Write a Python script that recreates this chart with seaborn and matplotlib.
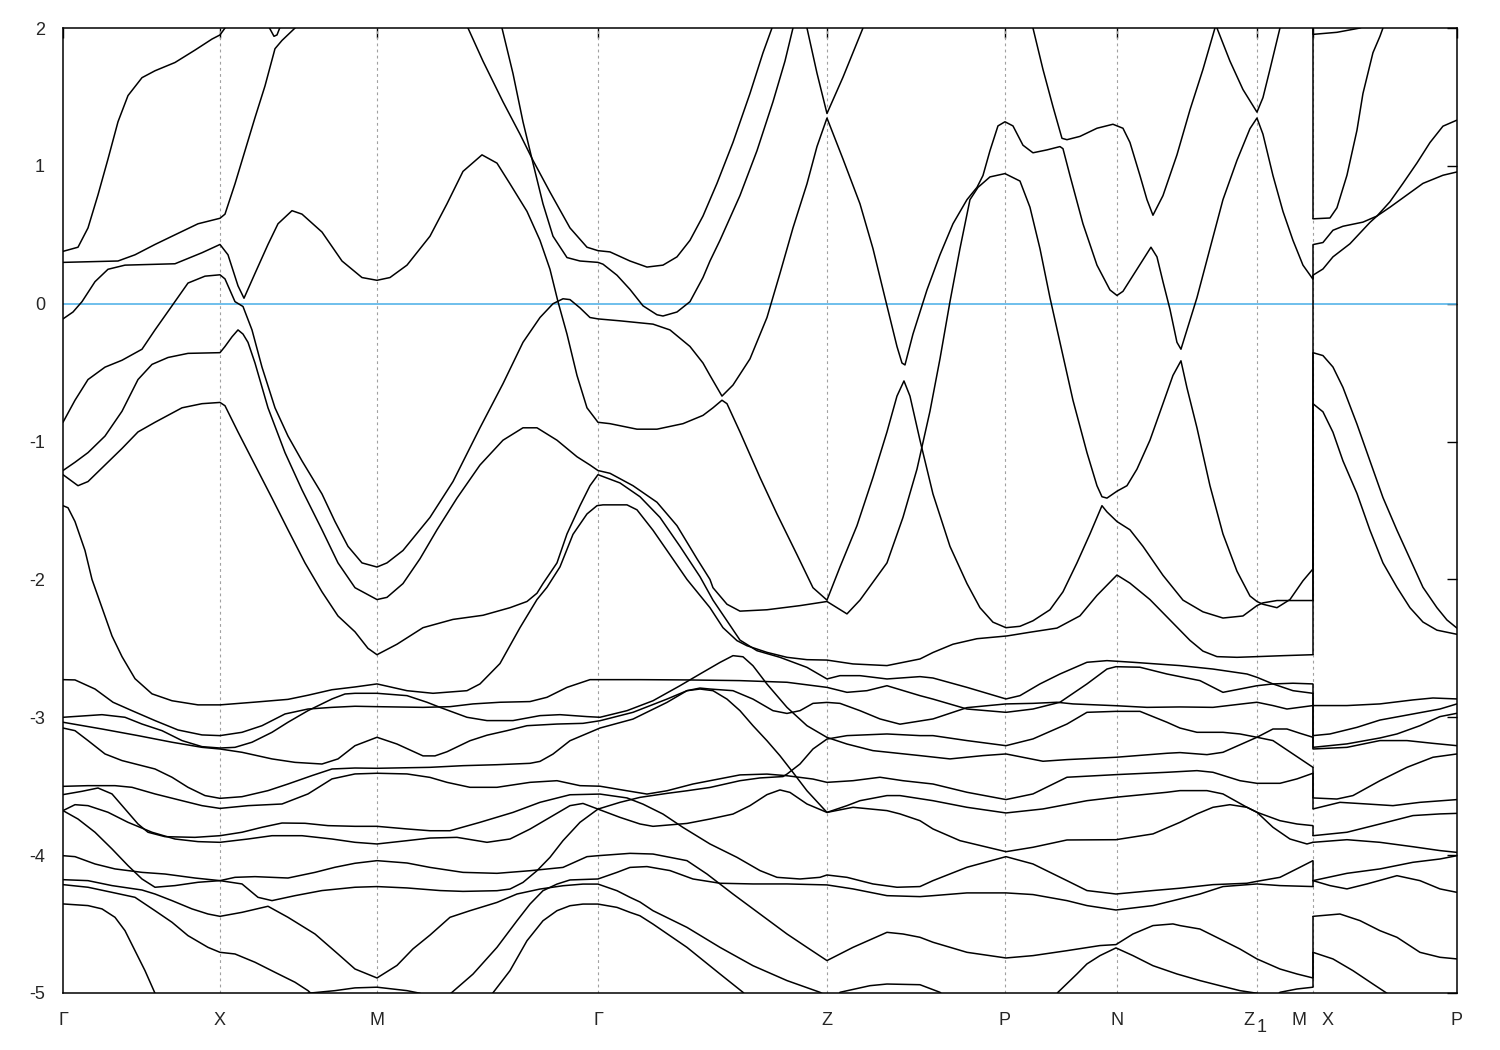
import matplotlib
matplotlib.use("Agg")
import pandas as pd
import matplotlib.pyplot as plt
import seaborn as sns

sns.set_style("white")
plt.rcParams["font.family"] = ["Liberation Sans", "DejaVu Sans"]
plt.rcParams["axes.unicode_minus"] = False

# high-symmetry points along the k-path (path length units)
k_ticks = [0.00, 1.57, 3.14, 5.35, 7.64, 9.42, 10.54, 11.94, 12.50, 13.94]
k_labels = ["Γ", "X", "M", "Γ", "Z", "P", "N", "", "", "P"]
k_break = 12.50
# labels drawn beside a tick (Z1 and the M|X break)
side_pos = [11.86, 12.36, 12.65]
side_labels = ["Z", "M", "X"]
sub_pos = 11.99

# ---- bands above about -2.5 eV: (k, E) ----
band_a1 = [(0.00, 0.38), (0.15, 0.41), (0.25, 0.55), (0.35, 0.79), (0.45, 1.05), (0.55, 1.32),
           (0.65, 1.51), (0.79, 1.64), (0.92, 1.69), (1.12, 1.75), (1.32, 1.84), (1.49, 1.92),
           (1.57, 1.95), (1.64, 2.02), (1.70, 2.10)]
band_a2 = [(2.02, 2.06), (2.11, 1.94), (2.14, 1.95), (2.20, 2.06)]
band_b = [(0.00, 0.30), (0.55, 0.31), (0.72, 0.355), (0.92, 0.43), (1.12, 0.50), (1.35, 0.58),
          (1.57, 0.62), (1.62, 0.65), (1.72, 0.87), (1.82, 1.11), (1.92, 1.35), (2.02, 1.58),
          (2.12, 1.85), (2.19, 1.91), (2.32, 2.00), (2.40, 2.06)]
band_c = [(0.00, -0.11), (0.10, -0.06), (0.19, 0.015), (0.32, 0.16), (0.45, 0.25), (0.62, 0.28),
          (1.12, 0.29), (1.39, 0.37), (1.57, 0.43), (1.65, 0.355), (1.75, 0.13), (1.81, 0.04),
          (1.92, 0.22), (2.05, 0.43), (2.15, 0.58), (2.29, 0.675), (2.39, 0.65), (2.59, 0.52),
          (2.79, 0.31), (2.99, 0.19), (3.14, 0.17), (3.27, 0.19), (3.44, 0.28), (3.67, 0.49),
          (3.84, 0.725), (4.00, 0.96), (4.19, 1.08), (4.34, 1.02), (4.47, 0.87), (4.64, 0.67),
          (4.77, 0.46), (4.87, 0.25), (4.95, 0.015), (5.04, -0.22), (5.14, -0.52), (5.24, -0.755),
          (5.35, -0.86), (5.47, -0.87), (5.74, -0.91), (5.94, -0.91), (6.20, -0.87), (6.40, -0.81),
          (6.50, -0.755), (6.59, -0.70), (6.64, -0.725), (6.77, -0.93), (6.97, -1.26), (7.14, -1.525),
          (7.34, -1.82), (7.50, -2.06), (7.64, -2.15), (7.77, -1.91), (7.94, -1.61), (8.10, -1.26),
          (8.24, -0.93), (8.34, -0.67), (8.41, -0.56), (8.47, -0.67), (8.57, -0.99), (8.70, -1.38),
          (8.87, -1.76), (9.04, -2.03), (9.17, -2.205), (9.30, -2.31), (9.43, -2.35), (9.57, -2.34),
          (9.70, -2.30), (9.87, -2.22), (10.00, -2.09), (10.14, -1.88), (10.27, -1.67),
          (10.39, -1.465), (10.44, -1.51), (10.54, -1.58), (10.67, -1.64), (10.80, -1.76),
          (11.00, -1.97), (11.20, -2.15), (11.40, -2.235), (11.60, -2.28), (11.80, -2.265),
          (11.94, -2.19), (12.00, -2.17), (12.14, -2.153), (12.50, -2.153)]
band_d = [(0.00, -0.86), (0.12, -0.70), (0.25, -0.55), (0.42, -0.46), (0.59, -0.41), (0.79, -0.33),
          (0.92, -0.19), (1.09, -0.015), (1.25, 0.15), (1.42, 0.20), (1.57, 0.21), (1.62, 0.18),
          (1.72, 0.015), (1.80, -0.02), (1.89, -0.19), (1.99, -0.46), (2.12, -0.755), (2.25, -0.96),
          (2.39, -1.14), (2.59, -1.38), (2.72, -1.58), (2.85, -1.76), (2.99, -1.88), (3.14, -1.91),
          (3.24, -1.88), (3.40, -1.79), (3.67, -1.55), (3.90, -1.29), (4.17, -0.90), (4.40, -0.58),
          (4.60, -0.28), (4.77, -0.10), (4.90, 0.00), (5.00, 0.036), (5.07, 0.03), (5.17, -0.03),
          (5.27, -0.10), (5.35, -0.11), (5.57, -0.124), (5.90, -0.148), (6.07, -0.19), (6.27, -0.31),
          (6.40, -0.43), (6.47, -0.52), (6.59, -0.67), (6.70, -0.59), (6.87, -0.40), (7.04, -0.10),
          (7.17, 0.22), (7.30, 0.55), (7.44, 0.87), (7.54, 1.14), (7.64, 1.347), (7.80, 1.05),
          (7.97, 0.725), (8.10, 0.40), (8.22, 0.044), (8.34, -0.31), (8.39, -0.43), (8.42, -0.444),
          (8.50, -0.22), (8.64, 0.10), (8.77, 0.355), (8.90, 0.58), (9.04, 0.755), (9.14, 0.844),
          (9.20, 0.93), (9.27, 1.11), (9.35, 1.29), (9.42, 1.32), (9.50, 1.29), (9.60, 1.15),
          (9.70, 1.095), (9.84, 1.116), (9.97, 1.14), (10.00, 1.125), (10.07, 0.93), (10.20, 0.58),
          (10.34, 0.28), (10.47, 0.10), (10.54, 0.06), (10.60, 0.09), (10.74, 0.25), (10.88, 0.41),
          (10.94, 0.34), (11.00, 0.16), (11.07, -0.04), (11.14, -0.28), (11.18, -0.33),
          (11.24, -0.19), (11.34, 0.044), (11.47, 0.40), (11.60, 0.755), (11.74, 1.04),
          (11.87, 1.27), (11.94, 1.347), (12.00, 1.23), (12.10, 0.93), (12.20, 0.67), (12.30, 0.46),
          (12.40, 0.28), (12.50, 0.178)]
band_e = [(0.00, -1.21), (0.12, -1.15), (0.25, -1.08), (0.42, -0.96), (0.59, -0.78), (0.75, -0.55),
          (0.89, -0.44), (1.05, -0.39), (1.25, -0.36), (1.57, -0.355), (1.62, -0.31), (1.69, -0.24),
          (1.75, -0.19), (1.80, -0.22), (1.85, -0.28), (1.92, -0.43), (2.05, -0.755), (2.22, -1.08),
          (2.39, -1.35), (2.59, -1.64), (2.75, -1.88), (2.92, -2.06), (3.14, -2.146), (3.24, -2.13),
          (3.40, -2.03), (3.57, -1.85), (3.74, -1.64), (3.94, -1.41), (4.17, -1.17), (4.40, -0.99),
          (4.60, -0.90), (4.74, -0.90), (4.94, -0.99), (5.14, -1.11), (5.27, -1.17), (5.35, -1.21),
          (5.47, -1.23), (5.70, -1.32), (5.94, -1.44), (6.14, -1.61), (6.34, -1.85), (6.47, -2.00),
          (6.50, -2.06), (6.64, -2.18), (6.77, -2.23), (7.04, -2.22), (7.37, -2.19), (7.64, -2.16),
          (7.84, -2.25), (7.97, -2.15), (8.24, -1.88), (8.40, -1.55), (8.54, -1.20), (8.67, -0.78),
          (8.77, -0.40), (8.87, 0.015), (8.97, 0.40), (9.07, 0.755), (9.15, 0.844), (9.27, 0.92),
          (9.42, 0.944), (9.57, 0.89), (9.67, 0.70), (9.77, 0.40), (9.87, 0.044), (9.97, -0.28),
          (10.10, -0.70), (10.24, -1.08), (10.34, -1.32), (10.39, -1.40), (10.44, -1.41),
          (10.54, -1.36), (10.64, -1.32), (10.74, -1.20), (10.87, -0.99), (11.00, -0.725),
          (11.10, -0.52), (11.18, -0.414), (11.24, -0.61), (11.34, -0.90), (11.47, -1.32),
          (11.60, -1.67), (11.74, -1.94), (11.87, -2.12), (11.94, -2.16), (12.00, -2.18),
          (12.14, -2.205), (12.27, -2.146), (12.40, -2.01), (12.50, -1.924)]
band_f = [(0.00, -1.24), (0.15, -1.32), (0.25, -1.29), (0.42, -1.17), (0.59, -1.05), (0.75, -0.93),
          (0.92, -0.86), (1.19, -0.755), (1.39, -0.725), (1.57, -0.716), (1.62, -0.74), (1.75, -0.93),
          (1.92, -1.17), (2.09, -1.41), (2.25, -1.64), (2.42, -1.88), (2.59, -2.09), (2.75, -2.265),
          (2.92, -2.38), (3.05, -2.50), (3.14, -2.546), (3.34, -2.47), (3.60, -2.35), (3.90, -2.29),
          (4.20, -2.26), (4.47, -2.205), (4.64, -2.16), (4.74, -2.10), (4.80, -2.03), (4.94, -1.88),
          (5.04, -1.67), (5.17, -1.465), (5.27, -1.32), (5.35, -1.24), (5.57, -1.30), (5.77, -1.40),
          (5.97, -1.55), (6.17, -1.76), (6.37, -1.98), (6.50, -2.15), (6.64, -2.30), (6.77, -2.44),
          (6.94, -2.517), (7.17, -2.565), (7.44, -2.638), (7.64, -2.722), (7.77, -2.698),
          (7.97, -2.698), (8.24, -2.722), (8.57, -2.705), (8.70, -2.715), (9.04, -2.783),
          (9.43, -2.867), (9.57, -2.843), (9.77, -2.758), (9.97, -2.686), (10.24, -2.601),
          (10.44, -2.589), (10.70, -2.601), (11.17, -2.625), (11.50, -2.65), (11.84, -2.686),
          (11.94, -2.71), (12.10, -2.758), (12.30, -2.807), (12.50, -2.826)]
band_g = [(0.00, -1.465), (0.05, -1.48), (0.12, -1.58), (0.22, -1.79), (0.29, -2.00), (0.39, -2.205),
          (0.49, -2.41), (0.59, -2.56), (0.72, -2.72), (0.89, -2.83), (1.09, -2.88), (1.35, -2.91),
          (1.57, -2.91), (1.92, -2.89), (2.25, -2.87), (2.45, -2.84), (2.69, -2.80), (2.92, -2.78),
          (3.14, -2.758), (3.44, -2.807), (3.70, -2.826), (4.04, -2.807), (4.17, -2.758),
          (4.37, -2.61), (4.47, -2.48), (4.57, -2.35), (4.74, -2.146), (4.84, -2.057), (4.97, -1.909),
          (5.10, -1.673), (5.24, -1.525), (5.34, -1.465), (5.40, -1.459), (5.64, -1.459),
          (5.74, -1.495), (5.90, -1.643), (6.07, -1.821), (6.24, -2.00), (6.47, -2.205), (6.60, -2.35),
          (6.74, -2.444), (6.84, -2.481), (7.04, -2.529), (7.24, -2.565), (7.44, -2.582),
          (7.64, -2.585), (7.90, -2.613), (8.24, -2.625), (8.57, -2.577), (8.70, -2.53),
          (8.90, -2.47), (9.14, -2.43), (9.44, -2.41), (9.67, -2.383), (9.94, -2.353),
          (10.17, -2.264), (10.34, -2.116), (10.54, -1.968), (10.67, -2.027), (10.87, -2.146),
          (11.07, -2.294), (11.27, -2.442), (11.40, -2.52), (11.54, -2.56), (11.74, -2.565),
          (11.94, -2.56), (12.20, -2.553), (12.50, -2.546)]
band_u1 = [(4.00, 2.08), (4.05, 2.00), (4.20, 1.76), (4.40, 1.465), (4.57, 1.23), (4.70, 1.04),
           (4.87, 0.81), (5.07, 0.55), (5.24, 0.41), (5.35, 0.385), (5.47, 0.376), (5.67, 0.31),
           (5.84, 0.266), (6.00, 0.28), (6.14, 0.34), (6.27, 0.46), (6.40, 0.636), (6.54, 0.873),
           (6.70, 1.17), (6.87, 1.525), (7.00, 1.82), (7.09, 2.00), (7.13, 2.08)]
band_u2 = [(4.36, 2.08), (4.39, 2.00), (4.50, 1.67), (4.60, 1.32), (4.70, 1.02), (4.80, 0.725),
           (4.90, 0.49), (5.04, 0.335), (5.17, 0.31), (5.35, 0.30), (5.40, 0.287), (5.54, 0.207),
           (5.67, 0.104), (5.80, -0.015), (5.94, -0.08), (6.00, -0.089), (6.14, -0.06), (6.27, 0.015),
           (6.40, 0.19), (6.47, 0.31), (6.57, 0.46), (6.77, 0.785), (6.94, 1.11), (7.10, 1.465),
           (7.22, 1.76), (7.30, 2.00), (7.33, 2.08)]
band_ztop = [(7.41, 2.08), (7.44, 2.00), (7.54, 1.673), (7.64, 1.38), (7.80, 1.643), (8.00, 2.00),
             (8.04, 2.08)]
band_t1 = [(9.68, 2.08), (9.70, 2.00), (9.80, 1.70), (9.90, 1.43), (9.99, 1.20), (10.04, 1.19),
           (10.17, 1.214), (10.34, 1.273), (10.50, 1.302), (10.60, 1.273), (10.67, 1.17),
           (10.77, 0.93), (10.84, 0.755), (10.90, 0.642), (11.00, 0.784), (11.14, 1.08),
           (11.27, 1.406), (11.40, 1.70), (11.52, 2.00), (11.55, 2.08)]
band_t2 = [(11.51, 2.08), (11.54, 2.00), (11.67, 1.76), (11.80, 1.554), (11.94, 1.39), (12.00, 1.495),
           (12.07, 1.70), (12.17, 2.00), (12.20, 2.08)]

# ---- X -> P section (after the path break) ----
band_xp1 = [(12.50, 1.954), (12.74, 1.969), (12.97, 2.00), (13.05, 2.03)]
band_xp2 = [(12.50, 0.616), (12.67, 0.622), (12.74, 0.696), (12.84, 0.932), (12.94, 1.258),
            (13.00, 1.525), (13.10, 1.821), (13.17, 1.94), (13.20, 2.00), (13.23, 2.06)]
band_xp3 = [(12.50, 0.429), (12.60, 0.444), (12.70, 0.533), (12.80, 0.562), (13.00, 0.592),
            (13.14, 0.636), (13.27, 0.74), (13.40, 0.873), (13.54, 1.021), (13.67, 1.169),
            (13.80, 1.288), (13.94, 1.332)]
band_xp4 = [(12.50, 0.207), (12.60, 0.252), (12.70, 0.34), (12.87, 0.435), (13.07, 0.59),
            (13.14, 0.636), (13.27, 0.70), (13.60, 0.873), (13.80, 0.932), (13.94, 0.956)]
band_xp5 = [(12.50, -0.355), (12.60, -0.376), (12.70, -0.459), (12.80, -0.607), (12.94, -0.873),
            (13.07, -1.14), (13.20, -1.406), (13.34, -1.643), (13.47, -1.85), (13.60, -2.057),
            (13.74, -2.205), (13.84, -2.294), (13.94, -2.353)]
band_xp6 = [(12.50, -0.725), (12.60, -0.784), (12.70, -0.932), (12.80, -1.14), (12.94, -1.376),
            (13.07, -1.643), (13.20, -1.88), (13.34, -2.057), (13.47, -2.205), (13.60, -2.309),
            (13.74, -2.368), (13.94, -2.398)]

# ---- lower manifold (-2.5 .. -5 eV) ----
band_la = [(0.00, -2.727), (0.12, -2.729), (0.32, -2.795), (0.50, -2.891), (0.69, -2.952),
           (0.92, -3.024), (1.15, -3.092), (1.39, -3.128), (1.57, -3.133), (1.79, -3.109),
           (1.99, -3.061), (2.22, -2.976), (2.45, -2.94), (2.69, -2.928), (2.92, -2.92),
           (3.14, -2.923), (3.60, -2.928), (3.87, -2.923), (4.10, -2.903), (4.37, -2.891),
           (4.67, -2.886), (4.84, -2.855), (5.04, -2.783), (5.27, -2.727), (5.35, -2.727),
           (5.77, -2.727), (6.24, -2.729), (6.77, -2.734), (7.24, -2.746), (7.64, -2.783),
           (7.84, -2.819), (8.04, -2.807), (8.24, -2.771), (8.57, -2.843), (8.70, -2.868),
           (9.04, -2.94), (9.43, -2.964), (9.70, -2.94), (9.97, -2.891), (10.24, -2.758),
           (10.44, -2.65), (10.53, -2.633), (10.77, -2.637), (11.04, -2.686), (11.17, -2.705),
           (11.37, -2.734), (11.60, -2.819), (11.77, -2.795), (11.94, -2.771), (12.10, -2.758),
           (12.30, -2.753), (12.50, -2.758)]
band_lb = [(0.00, -3.0), (0.39, -2.981), (0.62, -3.0), (0.79, -3.049), (0.99, -3.097), (1.19, -3.169),
           (1.39, -3.213), (1.57, -3.223), (1.72, -3.218), (1.89, -3.181), (2.09, -3.109),
           (2.25, -3.036), (2.45, -2.952), (2.69, -2.867), (2.82, -2.831), (2.92, -2.826),
           (3.14, -2.826), (3.44, -2.843), (3.64, -2.891), (3.77, -2.928), (4.04, -3.0),
           (4.24, -3.024), (4.50, -3.024), (4.77, -2.988), (4.97, -2.981), (5.24, -2.995),
           (5.37, -3.0), (5.64, -2.952), (5.90, -2.88), (6.17, -2.771), (6.37, -2.686),
           (6.57, -2.602), (6.70, -2.553), (6.80, -2.561), (6.90, -2.626), (7.04, -2.759),
           (7.24, -2.928), (7.44, -3.061), (7.64, -3.146), (7.84, -3.194), (8.10, -3.242),
           (8.57, -3.278), (8.87, -3.302), (9.20, -3.278), (9.43, -3.266), (9.80, -3.319),
           (10.04, -3.307), (10.53, -3.29), (11.04, -3.261), (11.17, -3.256), (11.44, -3.271),
           (11.60, -3.254), (11.94, -3.145), (12.10, -3.085), (12.24, -3.085), (12.37, -3.116),
           (12.50, -3.145)]
band_lc = [(0.00, -3.036), (0.39, -3.085), (0.75, -3.133), (1.09, -3.181), (1.39, -3.218),
           (1.57, -3.23), (1.79, -3.254), (2.09, -3.302), (2.32, -3.327), (2.59, -3.339),
           (2.75, -3.302), (2.92, -3.206), (3.14, -3.145), (3.34, -3.194), (3.60, -3.28),
           (3.72, -3.28), (3.84, -3.25), (4.07, -3.17), (4.24, -3.13), (4.44, -3.097),
           (4.64, -3.061), (4.94, -3.049), (5.20, -3.044), (5.37, -3.025), (5.70, -2.964),
           (6.04, -2.868), (6.24, -2.807), (6.37, -2.788), (6.47, -2.795), (6.70, -2.807),
           (6.90, -2.868), (7.10, -2.952), (7.24, -2.972), (7.37, -2.952), (7.50, -2.899),
           (7.64, -2.892), (7.77, -2.899), (7.97, -2.952), (8.17, -3.012), (8.37, -3.05),
           (8.70, -3.012), (9.04, -2.93), (9.43, -2.903), (9.70, -2.899), (9.94, -2.891),
           (10.10, -2.903), (10.53, -2.916), (10.84, -2.928), (11.17, -2.925), (11.50, -2.928),
           (11.84, -2.899), (11.94, -2.891), (12.10, -2.915), (12.24, -2.94), (12.50, -2.915)]
band_ld = [(0.00, -3.078), (0.12, -3.097), (0.25, -3.169), (0.42, -3.266), (0.59, -3.314),
           (0.79, -3.351), (0.92, -3.375), (1.09, -3.435), (1.25, -3.508), (1.42, -3.568),
           (1.57, -3.588), (1.79, -3.576), (2.05, -3.532), (2.25, -3.484), (2.49, -3.423),
           (2.69, -3.375), (2.92, -3.368), (3.14, -3.37), (3.67, -3.363), (4.00, -3.351),
           (4.34, -3.344), (4.67, -3.334), (4.77, -3.32), (4.90, -3.267), (5.07, -3.17),
           (5.37, -3.078), (5.70, -3.013), (6.04, -2.892), (6.24, -2.807), (6.37, -2.795),
           (6.50, -2.807), (6.64, -2.868), (6.77, -2.952), (6.90, -3.061), (7.04, -3.17),
           (7.17, -3.279), (7.30, -3.40), (7.44, -3.533), (7.64, -3.69), (7.84, -3.641),
           (7.97, -3.605), (8.24, -3.568), (8.37, -3.568), (8.70, -3.605), (9.04, -3.653),
           (9.43, -3.694), (9.80, -3.665), (10.24, -3.605), (10.53, -3.58), (11.04, -3.544),
           (11.17, -3.532), (11.44, -3.532), (11.60, -3.556), (11.84, -3.653), (11.94, -3.689),
           (12.17, -3.75), (12.34, -3.774), (12.50, -3.786)]
band_le = [(0.00, -3.501), (0.25, -3.496), (0.52, -3.496), (0.69, -3.508), (0.92, -3.556),
           (1.19, -3.605), (1.39, -3.641), (1.57, -3.661), (1.85, -3.641), (2.19, -3.629),
           (2.45, -3.556), (2.69, -3.447), (2.92, -3.411), (3.14, -3.406), (3.44, -3.411),
           (3.67, -3.436), (3.84, -3.472), (4.07, -3.508), (4.34, -3.508), (4.67, -3.472),
           (4.94, -3.46), (5.17, -3.496), (5.37, -3.50), (5.64, -3.533), (5.84, -3.557),
           (6.04, -3.533), (6.30, -3.484), (6.77, -3.418), (7.04, -3.412), (7.24, -3.424),
           (7.50, -3.448), (7.64, -3.472), (7.90, -3.46), (8.17, -3.435), (8.40, -3.46),
           (8.70, -3.484), (9.04, -3.544), (9.43, -3.597), (9.70, -3.556), (10.04, -3.435),
           (10.53, -3.416), (11.04, -3.399), (11.34, -3.387), (11.50, -3.399), (11.77, -3.46),
           (11.94, -3.479), (12.17, -3.479), (12.34, -3.447), (12.50, -3.406)]
band_lf = [(0.00, -3.561), (0.19, -3.537), (0.35, -3.513), (0.49, -3.556), (0.62, -3.665),
           (0.75, -3.774), (0.85, -3.834), (1.02, -3.866), (1.32, -3.871), (1.57, -3.859),
           (1.79, -3.834), (1.99, -3.798), (2.19, -3.767), (2.42, -3.769), (2.65, -3.786),
           (2.92, -3.791), (3.14, -3.791), (3.44, -3.81), (3.67, -3.823), (3.87, -3.823),
           (4.17, -3.762), (4.50, -3.69), (4.77, -3.617), (5.07, -3.562), (5.37, -3.557),
           (5.64, -3.585), (5.80, -3.63), (6.00, -3.702), (6.20, -3.799), (6.47, -3.919),
           (6.74, -4.016), (6.97, -4.112), (7.14, -4.161), (7.37, -4.173), (7.57, -4.161),
           (7.64, -4.144), (7.84, -4.161), (8.10, -4.209), (8.34, -4.233), (8.57, -4.228),
           (8.70, -4.185), (9.04, -4.088), (9.43, -4.011), (9.70, -4.064), (10.04, -4.185),
           (10.24, -4.257), (10.53, -4.282), (10.90, -4.257), (11.17, -4.24), (11.50, -4.214),
           (11.84, -4.204), (11.94, -4.19), (12.17, -4.161), (12.37, -4.088), (12.50, -4.04)]
band_lg = [(0.00, -3.677), (0.12, -3.634), (0.25, -3.641), (0.45, -3.689), (0.65, -3.762),
           (0.89, -3.834), (1.12, -3.883), (1.35, -3.902), (1.57, -3.907), (1.85, -3.883),
           (2.09, -3.859), (2.39, -3.859), (2.69, -3.883), (2.92, -3.907), (3.14, -3.919),
           (3.44, -3.895), (3.67, -3.876), (3.94, -3.871), (4.24, -3.907), (4.47, -3.883),
           (4.67, -3.811), (4.87, -3.726), (5.07, -3.641), (5.20, -3.625), (5.35, -3.666),
           (5.57, -3.726), (5.77, -3.774), (5.90, -3.791), (6.24, -3.77), (6.47, -3.738),
           (6.70, -3.702), (6.87, -3.641), (7.04, -3.561), (7.17, -3.527), (7.27, -3.545),
           (7.44, -3.629), (7.64, -3.69), (7.90, -3.653), (8.24, -3.677), (8.37, -3.701),
           (8.57, -3.75), (8.70, -3.81), (8.97, -3.895), (9.43, -3.975), (9.70, -3.943),
           (10.04, -3.89), (10.53, -3.888), (10.90, -3.846), (11.17, -3.762), (11.34, -3.701),
           (11.50, -3.653), (11.67, -3.634), (11.84, -3.653), (11.94, -3.689), (12.10, -3.798),
           (12.27, -3.883), (12.44, -3.919), (12.50, -3.907)]
band_lh = [(0.00, -3.677), (0.15, -3.738), (0.32, -3.834), (0.49, -3.955), (0.65, -4.076),
           (0.79, -4.173), (0.92, -4.233), (1.12, -4.221), (1.35, -4.197), (1.57, -4.185),
           (1.79, -4.209), (1.95, -4.306), (2.09, -4.33), (2.32, -4.294), (2.59, -4.257),
           (2.92, -4.233), (3.14, -4.228), (3.44, -4.238), (3.77, -4.257), (4.00, -4.263),
           (4.34, -4.258), (4.47, -4.246), (4.60, -4.198), (4.74, -4.113), (4.87, -4.016),
           (5.00, -3.895), (5.17, -3.762), (5.35, -3.666), (5.57, -3.617), (5.77, -3.581),
           (6.04, -3.552), (6.24, -3.533), (6.47, -3.509), (6.77, -3.46), (6.97, -3.44),
           (7.20, -3.43), (7.24, -3.412), (7.37, -3.339), (7.50, -3.23), (7.64, -3.158),
           (7.84, -3.133), (8.24, -3.121), (8.57, -3.133), (8.70, -3.133), (9.04, -3.169),
           (9.43, -3.206), (9.70, -3.157), (10.04, -3.049), (10.24, -2.964), (10.53, -2.957),
           (10.77, -2.957), (11.04, -3.036), (11.17, -3.078), (11.34, -3.109), (11.60, -3.109),
           (11.77, -3.121), (11.94, -3.145), (12.10, -3.169), (12.30, -3.266), (12.50, -3.363)]
band_li = [(0.00, -4.004), (0.12, -4.011), (0.32, -4.064), (0.52, -4.10), (0.79, -4.125),
           (1.02, -4.137), (1.32, -4.166), (1.57, -4.185), (1.72, -4.161), (1.92, -4.156),
           (2.25, -4.166), (2.52, -4.125), (2.72, -4.088), (2.92, -4.059), (3.14, -4.04),
           (3.44, -4.057), (3.67, -4.089), (4.00, -4.125), (4.34, -4.132), (4.67, -4.113),
           (5.00, -4.089), (5.24, -4.011), (5.35, -4.004), (5.67, -3.987), (5.90, -3.992),
           (6.24, -4.04), (6.44, -4.137), (6.70, -4.282), (6.97, -4.427), (7.24, -4.572),
           (7.44, -4.669), (7.64, -4.765), (7.90, -4.669), (8.24, -4.56), (8.40, -4.572),
           (8.57, -4.596), (8.70, -4.632), (9.04, -4.705), (9.43, -4.746), (9.70, -4.729),
           (10.04, -4.693), (10.37, -4.656), (10.53, -4.649), (10.70, -4.572), (10.90, -4.511),
           (11.10, -4.499), (11.17, -4.511), (11.37, -4.536), (11.57, -4.608), (11.77, -4.681),
           (11.94, -4.753), (12.17, -4.826), (12.34, -4.862), (12.50, -4.891)]
band_lj = [(0.00, -4.178), (0.25, -4.185), (0.49, -4.221), (0.79, -4.253), (0.92, -4.282),
           (1.09, -4.33), (1.29, -4.39), (1.45, -4.427), (1.57, -4.444), (1.79, -4.415),
           (2.05, -4.371), (2.25, -4.451), (2.52, -4.572), (2.75, -4.717), (2.92, -4.826),
           (3.14, -4.891), (3.34, -4.80), (3.50, -4.68), (3.67, -4.58), (3.87, -4.451),
           (4.07, -4.403), (4.34, -4.343), (4.54, -4.282), (4.77, -4.246), (5.00, -4.222),
           (5.20, -4.21), (5.35, -4.21), (5.54, -4.258), (5.67, -4.306), (5.77, -4.34),
           (5.90, -4.403), (6.24, -4.524), (6.57, -4.669), (6.90, -4.802), (7.24, -4.91),
           (7.57, -4.995), (7.70, -5.05)]
band_lk = [(0.00, -4.214), (0.25, -4.233), (0.49, -4.27), (0.72, -4.306), (0.92, -4.403),
           (1.09, -4.487), (1.25, -4.584), (1.45, -4.669), (1.57, -4.705), (1.72, -4.717),
           (1.92, -4.777), (2.12, -4.85), (2.32, -4.922), (2.45, -4.983), (2.55, -5.05)]
band_ll = [(0.00, -4.354), (0.25, -4.366), (0.39, -4.39), (0.52, -4.451), (0.62, -4.548),
           (0.72, -4.693), (0.82, -4.838), (0.92, -5.002), (0.95, -5.05)]
band_lm = [(2.40, -5.05), (2.45, -5.002), (2.72, -4.983), (2.92, -4.963), (3.14, -4.958),
           (3.44, -4.983), (3.57, -5.002), (3.65, -5.05)]
band_ln = [(3.84, -5.05), (3.87, -5.008), (4.10, -4.863), (4.34, -4.669), (4.54, -4.476),
           (4.67, -4.355), (4.80, -4.258), (4.94, -4.21), (5.07, -4.18), (5.35, -4.173),
           (5.54, -4.125), (5.67, -4.089), (5.84, -4.083), (6.07, -4.112), (6.30, -4.173),
           (6.57, -4.204), (6.90, -4.209), (7.24, -4.209), (7.64, -4.216), (7.90, -4.245),
           (8.24, -4.294), (8.57, -4.301), (8.70, -4.294), (9.04, -4.274), (9.43, -4.274),
           (9.70, -4.286), (10.04, -4.33), (10.24, -4.366), (10.53, -4.398), (10.90, -4.366),
           (11.17, -4.318), (11.37, -4.282), (11.60, -4.228), (11.94, -4.209), (12.17, -4.221),
           (12.50, -4.228)]
band_lo = [(4.27, -5.05), (4.29, -5.008), (4.47, -4.838), (4.64, -4.621), (4.80, -4.476),
           (4.94, -4.403), (5.07, -4.367), (5.20, -4.355), (5.35, -4.355), (5.54, -4.379),
           (5.67, -4.415), (5.77, -4.44), (5.90, -4.50), (6.24, -4.669), (6.57, -4.862),
           (6.80, -4.995), (6.86, -5.05)]
band_lp = [(7.74, -5.05), (7.77, -4.995), (8.07, -4.947), (8.24, -4.935), (8.57, -4.94),
           (8.77, -4.995), (8.85, -5.05)]
band_lq = [(9.90, -5.05), (9.95, -4.995), (10.14, -4.862), (10.24, -4.789), (10.37, -4.729),
           (10.53, -4.673), (10.70, -4.729), (10.90, -4.802), (11.14, -4.862), (11.37, -4.91),
           (11.57, -4.947), (11.77, -4.983), (11.94, -5.002), (12.00, -5.05)]
band_lr = [(12.10, -5.05), (12.17, -4.995), (12.34, -4.971), (12.50, -4.958)]

band_xl1 = [(12.50, -2.915), (12.84, -2.915), (13.17, -2.903), (13.50, -2.874), (13.70, -2.86), (13.94, -2.867)]
band_xl2 = [(12.50, -3.133), (12.67, -3.121), (12.94, -3.073), (13.17, -3.02), (13.50, -2.976),
            (13.77, -2.94), (13.94, -2.903)]
band_xl3 = [(12.50, -3.218), (12.84, -3.193), (13.17, -3.15), (13.34, -3.121), (13.57, -3.061),
            (13.77, -2.995), (13.94, -2.971)]
band_xl4 = [(12.50, -3.23), (12.84, -3.218), (13.17, -3.169), (13.44, -3.169), (13.70, -3.189), (13.94, -3.206)]
band_xl5 = [(12.50, -3.585), (12.74, -3.593), (12.90, -3.568), (13.17, -3.46), (13.44, -3.363),
            (13.70, -3.29), (13.94, -3.266)]
band_xl6 = [(12.50, -3.665), (12.77, -3.617), (13.04, -3.629), (13.30, -3.641), (13.57, -3.617), (13.94, -3.597)]
band_xl7 = [(12.50, -3.859), (12.84, -3.834), (13.17, -3.774), (13.50, -3.713), (13.77, -3.701), (13.94, -3.697)]
band_xl8 = [(12.50, -3.907), (12.84, -3.888), (13.17, -3.907), (13.50, -3.939), (13.77, -3.967), (13.94, -3.98)]
band_xl9 = [(12.50, -4.185), (12.84, -4.132), (13.17, -4.10), (13.50, -4.052), (13.77, -4.028), (13.94, -4.004)]
band_xl10 = [(12.50, -4.185), (12.67, -4.221), (12.84, -4.245), (13.04, -4.209), (13.34, -4.149),
             (13.57, -4.185), (13.77, -4.245), (13.94, -4.27)]
band_xl11 = [(12.50, -4.444), (12.77, -4.427), (12.97, -4.475), (13.17, -4.548), (13.34, -4.596),
             (13.57, -4.705), (13.77, -4.741), (13.94, -4.753)]
band_xl12 = [(12.50, -4.705), (12.70, -4.753), (12.90, -4.838), (13.10, -4.935), (13.24, -5.002), (13.30, -5.05)]

# band energies on both sides of the M|X break (same band index)
jump_m = [2.40, 2.20, 0.178, -1.924, -2.153, -2.546, -2.758, -2.826, -2.915, -3.145, -3.363,
          -3.406, -3.786, -3.907, -4.04, -4.228, -4.891, -4.958]
jump_x = [1.954, 0.616, 0.429, 0.207, -0.355, -0.725, -2.915, -3.133, -3.218, -3.23, -3.585,
          -3.665, -3.859, -3.907, -4.185, -4.185, -4.444, -4.705]

bands = {
    "a1": band_a1, "a2": band_a2, "b": band_b, "c": band_c, "d": band_d, "e": band_e,
    "f": band_f, "g": band_g, "u1": band_u1, "u2": band_u2, "ztop": band_ztop,
    "t1": band_t1, "t2": band_t2,
    "xp1": band_xp1, "xp2": band_xp2, "xp3": band_xp3, "xp4": band_xp4, "xp5": band_xp5,
    "xp6": band_xp6,
    "la": band_la, "lb": band_lb, "lc": band_lc, "ld": band_ld, "le": band_le, "lf": band_lf,
    "lg": band_lg, "lh": band_lh, "li": band_li, "lj": band_lj, "lk": band_lk, "ll": band_ll,
    "lm": band_lm, "ln": band_ln, "lo": band_lo, "lp": band_lp, "lq": band_lq, "lr": band_lr,
    "xl1": band_xl1, "xl2": band_xl2, "xl3": band_xl3, "xl4": band_xl4, "xl5": band_xl5,
    "xl6": band_xl6, "xl7": band_xl7, "xl8": band_xl8, "xl9": band_xl9, "xl10": band_xl10,
    "xl11": band_xl11, "xl12": band_xl12,
}

rows = [(name, k, e) for name, pts in bands.items() for k, e in pts]
df = pd.DataFrame(rows, columns=["band", "k", "E"])

fig = plt.figure(figsize=(15, 10.5), dpi=100)
ax = fig.add_axes([0.042, 0.0543, 0.9293, 0.919])

# dashed guides at the interior high-symmetry points
ax.vlines(k_ticks[1:-1], -5, 2, colors="#a0a0a0", linestyles=(0, (2.5, 3)), linewidth=0.8, zorder=1)
ax.axhline(0, color="#56b4e9", linewidth=1.2, zorder=2)

sns.lineplot(data=df, x="k", y="E", units="band", estimator=None, sort=False,
             color="black", linewidth=1.1, ax=ax, legend=False, zorder=3)
ax.vlines([k_break] * len(jump_m), jump_m, jump_x, colors="black", linewidth=1.1, zorder=3)

ax.set_xlim(k_ticks[0], k_ticks[-1])
ax.set_ylim(-5, 2)
ax.set_xlabel("")
ax.set_ylabel("")

ax.set_xticks(k_ticks)
ax.set_xticklabels(k_labels)
ax.set_xticks(side_pos, labels=side_labels, minor=True)
ax.set_yticks(range(-5, 3))

ax.tick_params(axis="both", which="major", direction="in", length=7, width=1.0,
               top=True, right=True, labelsize=13, color="black")
ax.tick_params(axis="x", which="major", pad=14)
ax.tick_params(axis="y", which="major", pad=13)
ax.tick_params(axis="x", which="minor", length=0, pad=14, labelsize=13)

# subscript "1" of Z1, set lower than the Z
ax.annotate("1", xy=(sub_pos, 0), xycoords=("data", "axes fraction"),
            xytext=(0, -18.5), textcoords="offset points", ha="center", va="top", fontsize=13)

for s in ax.spines.values():
    s.set_color("black")
    s.set_linewidth(1.1)

fig.savefig("out.png", dpi=100)
